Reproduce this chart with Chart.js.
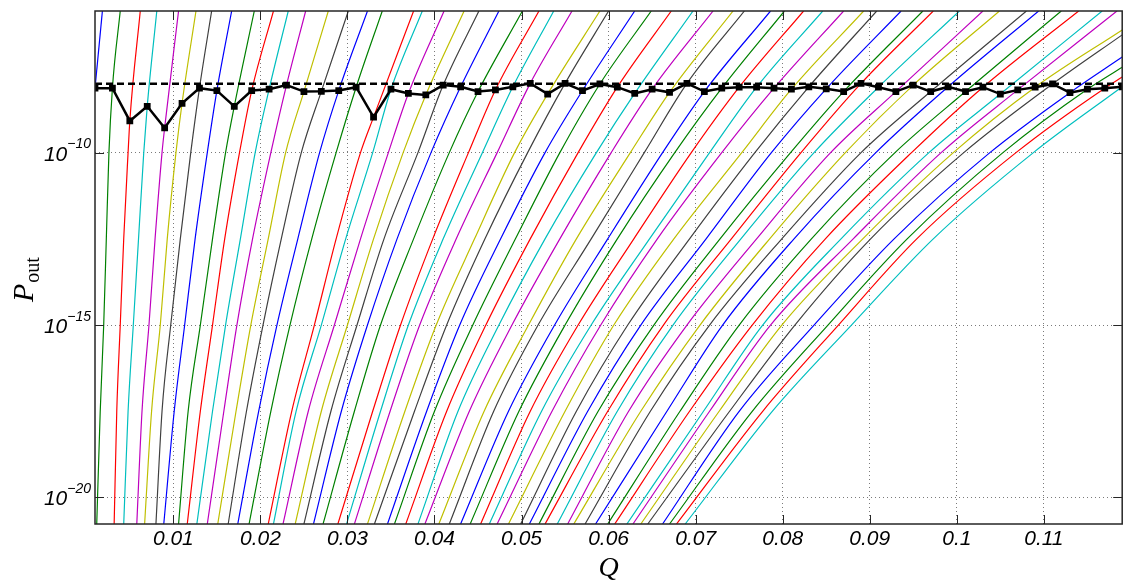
<!DOCTYPE html>
<html>
<head>
<meta charset="utf-8">
<title>P_out vs Q</title>
<script src="https://cdn.jsdelivr.net/npm/chart.js@4.4.1/dist/chart.umd.min.js"></script>
<style>
  html, body { margin: 0; padding: 0; background: #fff; }
  #wrap { width: 1127px; height: 585px; }
</style>
</head>
<body>
<div id="wrap"><canvas id="chart" width="1127" height="585"></canvas></div>
<script>
// Axis limits
const X_MIN = 0.001, X_MAX = 0.119;
const Y_MIN = 1.7e-21, Y_MAX = 1.28e-6;

const xTicks = [0.01, 0.02, 0.03, 0.04, 0.05, 0.06, 0.07, 0.08, 0.09, 0.1, 0.11];
const xTickLabels = ['0.01', '0.02', '0.03', '0.04', '0.05', '0.06', '0.07', '0.08', '0.09', '0.1', '0.11'];
const yTicks = [1e-20, 1e-15, 1e-10];
const yTickExps = ['\u221220', '\u221215', '\u221210'];

// target level (dashed line)
const P_TARGET = 1e-8;

// black markers, one per curve
const qMarker = [0.001, 0.003, 0.005, 0.007, 0.009, 0.011, 0.013, 0.015, 0.017, 0.019,
                 0.021, 0.023, 0.025, 0.027, 0.029, 0.031, 0.033, 0.035, 0.037, 0.039,
                 0.041, 0.043, 0.045, 0.047, 0.049, 0.051, 0.053, 0.055, 0.057, 0.059,
                 0.061, 0.063, 0.065, 0.067, 0.069, 0.071, 0.073, 0.075, 0.077, 0.079,
                 0.081, 0.083, 0.085, 0.087, 0.089, 0.091, 0.093, 0.095, 0.097, 0.099,
                 0.101, 0.103, 0.105, 0.107, 0.109, 0.111, 0.113, 0.115, 0.117, 0.119];
const pMarker = [7.4e-9, 7.4e-9, 8.3e-10, 2.2e-9, 5.2e-10, 2.7e-9, 7.4e-9, 6.3e-9, 2.2e-9, 6.3e-9,
                 6.9e-9, 9.1e-9, 5.9e-9, 6.0e-9, 6.3e-9, 7.9e-9, 1.07e-9, 6.9e-9, 5.2e-9, 4.7e-9,
                 9.1e-9, 8.1e-9, 5.9e-9, 6.6e-9, 8.1e-9, 1.02e-8, 5.0e-9, 1.02e-8, 6.3e-9, 9.8e-9,
                 7.9e-9, 5.2e-9, 6.9e-9, 5.6e-9, 1.02e-8, 5.9e-9, 7.4e-9, 7.9e-9, 7.9e-9, 7.4e-9,
                 6.9e-9, 8.1e-9, 7.1e-9, 5.9e-9, 1.02e-8, 7.9e-9, 5.9e-9, 9.1e-9, 5.9e-9, 8.1e-9,
                 5.9e-9, 7.9e-9, 5.0e-9, 6.6e-9, 7.9e-9, 9.8e-9, 5.5e-9, 6.9e-9, 7.4e-9, 8.1e-9];

// Q where each curve crosses these P levels
const levels = [Y_MIN, 3.16e-18, 1e-15, 3.16e-13, 1e-10];
const qBottom = [null, 0.0012, 0.0032, 0.0043, 0.0058, 0.0067, 0.0080, 0.0089, 0.0106, 0.0116,
                 0.0127, 0.0139, 0.0151, 0.0163, 0.0174, 0.0187, 0.0209, 0.0215, 0.0226, 0.0240,
                 0.0250, 0.0261, 0.0272, 0.0289, 0.0299, 0.0308, 0.0323, 0.0331, 0.0346, 0.0354,
                 0.0367, 0.0381, 0.0389, 0.0405, 0.0417, 0.0430, 0.0441, 0.0453, 0.0463, 0.0472,
                 0.0485, 0.0499, 0.0509, 0.0520, 0.0527, 0.0541, 0.0553, 0.0560, 0.0573, 0.0585,
                 0.0599, 0.0607, 0.0621, 0.0628, 0.0637, 0.0645, 0.0662, 0.0670, 0.0678, 0.0688];
const q175 = [null, 0.0016, 0.0035, 0.0048, 0.0064, 0.0075, 0.0087, 0.0101, 0.0117, 0.0131,
              0.0145, 0.0158, 0.0172, 0.0184, 0.0198, 0.0212, 0.0236, 0.0241, 0.0255, 0.0270,
              0.0281, 0.0293, 0.0308, 0.0329, 0.0338, 0.0349, 0.0366, 0.0377, 0.0391, 0.0400,
              0.0414, 0.0427, 0.0440, 0.0457, 0.0468, 0.0485, 0.0497, 0.0510, 0.0523, 0.0535,
              0.0550, 0.0563, 0.0576, 0.0588, 0.0599, 0.0610, 0.0623, 0.0637, 0.0648, 0.0667,
              0.0682, 0.0693, 0.0709, 0.0716, 0.0727, 0.0739, 0.0750, 0.0765, 0.0777, 0.0788];
const q15 = [null, 0.0020, 0.0039, 0.0054, 0.0072, 0.0085, 0.0097, 0.0113, 0.0131, 0.0145,
             0.0160, 0.0173, 0.0189, 0.0203, 0.0219, 0.0234, 0.0262, 0.0270, 0.0285, 0.0300,
             0.0311, 0.0323, 0.0338, 0.0361, 0.0370, 0.0383, 0.0402, 0.0414, 0.0429, 0.0444,
             0.0459, 0.0474, 0.0489, 0.0508, 0.0519, 0.0538, 0.0550, 0.0565, 0.0580, 0.0591,
             0.0606, 0.0622, 0.0637, 0.0652, 0.0663, 0.0674, 0.0690, 0.0705, 0.0716, 0.0731,
             0.0750, 0.0765, 0.0777, 0.0786, 0.0799, 0.0814, 0.0836, 0.0852, 0.0864, 0.0879];
const q125 = [null, 0.0023, 0.0043, 0.0060, 0.0079, 0.0093, 0.0108, 0.0125, 0.0145, 0.0159,
              0.0177, 0.0191, 0.0209, 0.0224, 0.0243, 0.0259, 0.0287, 0.0298, 0.0315, 0.0330,
              0.0342, 0.0357, 0.0376, 0.0398, 0.0410, 0.0425, 0.0446, 0.0458, 0.0476, 0.0493,
              0.0510, 0.0527, 0.0544, 0.0563, 0.0580, 0.0599, 0.0610, 0.0629, 0.0647, 0.0656,
              0.0675, 0.0693, 0.0712, 0.0728, 0.0741, 0.0752, 0.0770, 0.0785, 0.0799, 0.0813,
              0.0833, 0.0849, 0.0867, 0.0881, 0.0892, 0.0901, 0.0928, 0.0943, 0.0954, 0.0973];
const q10 = [null, 0.0026, 0.0048, 0.0066, 0.0087, 0.0103, 0.0120, 0.0139, 0.0160, 0.0176,
             0.0194, 0.0212, 0.0229, 0.0247, 0.0268, 0.0287, 0.0315, 0.0329, 0.0347, 0.0364,
             0.0381, 0.0396, 0.0417, 0.0439, 0.0455, 0.0472, 0.0492, 0.0507, 0.0527, 0.0544,
             0.0565, 0.0586, 0.0603, 0.0625, 0.0641, 0.0662, 0.0676, 0.0695, 0.0716, 0.0730,
             0.0753, 0.0768, 0.0787, 0.0809, 0.0821, 0.0836, 0.0855, 0.0872, 0.0890, 0.0907,
             0.0929, 0.0948, 0.0968, 0.0982, 0.0996, 0.1008, 0.1038, 0.1053, 0.1068, 0.1088];
const levelQ = [qBottom, q175, q15, q125, q10];

// Q where each curve leaves through the top of the plot
const qTop = [0.00185, 0.0039, 0.0062, 0.0081, 0.0106, 0.0126, 0.0144, 0.0167, 0.0193, 0.0215,
              0.0232, 0.0252, 0.0278, 0.0301, 0.0323, 0.0340, 0.0376, 0.0386, 0.0411, 0.0434,
              0.0451, 0.0474, 0.0501, 0.0520, 0.0537, 0.0558, 0.0590, 0.0600, 0.0630, 0.0649,
              0.0672, 0.0697, 0.0720, 0.0743, 0.0756, 0.0786, 0.0802, 0.0824, 0.0846, 0.0870,
              0.0893, 0.0908, 0.0936, 0.0961, 0.0973, 0.1003, 0.1030, 0.1049, 0.1080, 0.1094,
              0.1120, 0.1140, 0.1167, 0.1184, null, null, null, null, null, null];
// P at the right edge for curves that leave through the right side
const pRightEdge = {54: 3.6e-7, 55: 2.6e-7, 56: 5.9e-8, 57: 3.0e-8, 58: 1.55e-8};

// MATLAB-style colour cycle
const curveColors = ['#0000ff', '#008000', '#ff0000', '#00bfbf', '#bf00bf', '#bfbf00', '#404040'];

const datasets = [];

datasets.push({
    label: 'markers',
    data: qMarker.map((q, i) => ({ x: q, y: pMarker[i] })),
    borderColor: '#000',
    backgroundColor: '#000',
    borderWidth: 2.5,
    pointStyle: 'rect',
    pointRadius: 4.8,
    pointBorderWidth: 0,
    tension: 0,
    order: 0
});

datasets.push({
    label: 'target',
    data: [{ x: X_MIN, y: P_TARGET }, { x: X_MAX, y: P_TARGET }],
    borderColor: '#000',
    borderWidth: 2.5,
    borderDash: [7, 4],
    pointRadius: 0,
    order: 1
});

for (let k = 0; k < qMarker.length; k++) {
    const pts = [];
    levelQ.forEach((arr, i) => {
        if (arr[k] !== null) pts.push({ x: arr[k], y: levels[i] });
    });
    pts.push({ x: qMarker[k], y: pMarker[k] });
    if (qTop[k] !== null) pts.push({ x: qTop[k], y: Y_MAX });
    else if (pRightEdge[k]) pts.push({ x: X_MAX, y: pRightEdge[k] });

    datasets.push({
        label: 'curve ' + k,
        data: pts,
        borderColor: curveColors[k % curveColors.length],
        borderWidth: 1.2,
        pointRadius: 0,
        cubicInterpolationMode: 'monotone',
        order: 2 + (qMarker.length - 1 - k)
    });
}

// Box, inward ticks, exponent tick labels and the P_out label
const axesDecor = {
    id: 'axesDecor',
    afterDraw(chart) {
        const { ctx, chartArea: a, scales: { x, y } } = chart;
        ctx.save();

        ctx.strokeStyle = '#262626';
        ctx.lineWidth = 1;
        ctx.beginPath();
        xTicks.forEach(v => {
            const px = Math.round(x.getPixelForValue(v)) + 0.5;
            ctx.moveTo(px, a.bottom); ctx.lineTo(px, a.bottom - 9);
            ctx.moveTo(px, a.top); ctx.lineTo(px, a.top + 9);
        });
        yTicks.forEach(v => {
            const py = Math.round(y.getPixelForValue(v)) + 0.5;
            ctx.moveTo(a.left, py); ctx.lineTo(a.left + 9, py);
            ctx.moveTo(a.right, py); ctx.lineTo(a.right - 9, py);
        });
        ctx.stroke();

        ctx.lineWidth = 1.5;
        ctx.strokeRect(a.left, a.top, a.right - a.left, a.bottom - a.top);

        // y tick labels as 10^n
        ctx.fillStyle = '#000';
        ctx.textAlign = 'left';
        ctx.textBaseline = 'alphabetic';
        yTicks.forEach((v, i) => {
            const py = y.getPixelForValue(v);
            ctx.font = 'italic 14px "Liberation Sans"';
            const ew = ctx.measureText(yTickExps[i]).width;
            ctx.font = 'italic 21px "Liberation Sans"';
            const bw = ctx.measureText('10').width;
            const right = a.left - 4;
            ctx.fillText('10', right - ew - bw, py + 8);
            ctx.font = 'italic 14px "Liberation Sans"';
            ctx.fillText(yTickExps[i], right - ew, py - 4.5);
        });

        // y axis title P_out
        ctx.translate(33, 302);
        ctx.rotate(-Math.PI / 2);
        ctx.font = 'italic 30px "Liberation Serif"';
        ctx.fillText('P', 0, 0);
        const pw = ctx.measureText('P').width;
        ctx.font = '20px "Liberation Serif"';
        ctx.fillText('out', pw + 1, 6);

        ctx.restore();
    }
};

const gridColor = '#7a7a7a';

new Chart(document.getElementById('chart').getContext('2d'), {
    type: 'line',
    data: { datasets },
    options: {
        responsive: false,
        animation: false,
        events: [],
        devicePixelRatio: 1,
        layout: { padding: { top: 11, right: 1, left: 0, bottom: 0 } },
        plugins: {
            legend: { display: false },
            tooltip: { enabled: false }
        },
        scales: {
            x: {
                type: 'linear',
                min: X_MIN,
                max: X_MAX,
                afterBuildTicks: s => { s.ticks = xTicks.map(v => ({ value: v })); },
                afterFit: s => { s.height = 61; },
                ticks: {
                    autoSkip: false,
                    maxRotation: 0,
                    padding: 3,
                    color: '#000',
                    font: { family: 'Liberation Sans', size: 21, style: 'italic' },
                    callback: (v, i) => xTickLabels[i]
                },
                grid: { color: gridColor, lineWidth: 1, drawTicks: false, tickLength: 0 },
                border: { display: false, dash: [1, 3] },
                title: {
                    display: true,
                    text: 'Q',
                    color: '#000',
                    padding: { top: 0, bottom: 0 },
                    font: { family: 'Liberation Serif', size: 28, style: 'italic' }
                }
            },
            y: {
                type: 'logarithmic',
                min: Y_MIN,
                max: Y_MAX,
                afterBuildTicks: s => { s.ticks = yTicks.map(v => ({ value: v })); },
                afterFit: s => { s.width = 95; },
                ticks: { display: false },
                grid: { color: gridColor, lineWidth: 1, drawTicks: false, tickLength: 0 },
                border: { display: false, dash: [1, 3] }
            }
        }
    },
    plugins: [axesDecor]
});
</script>
</body>
</html>
